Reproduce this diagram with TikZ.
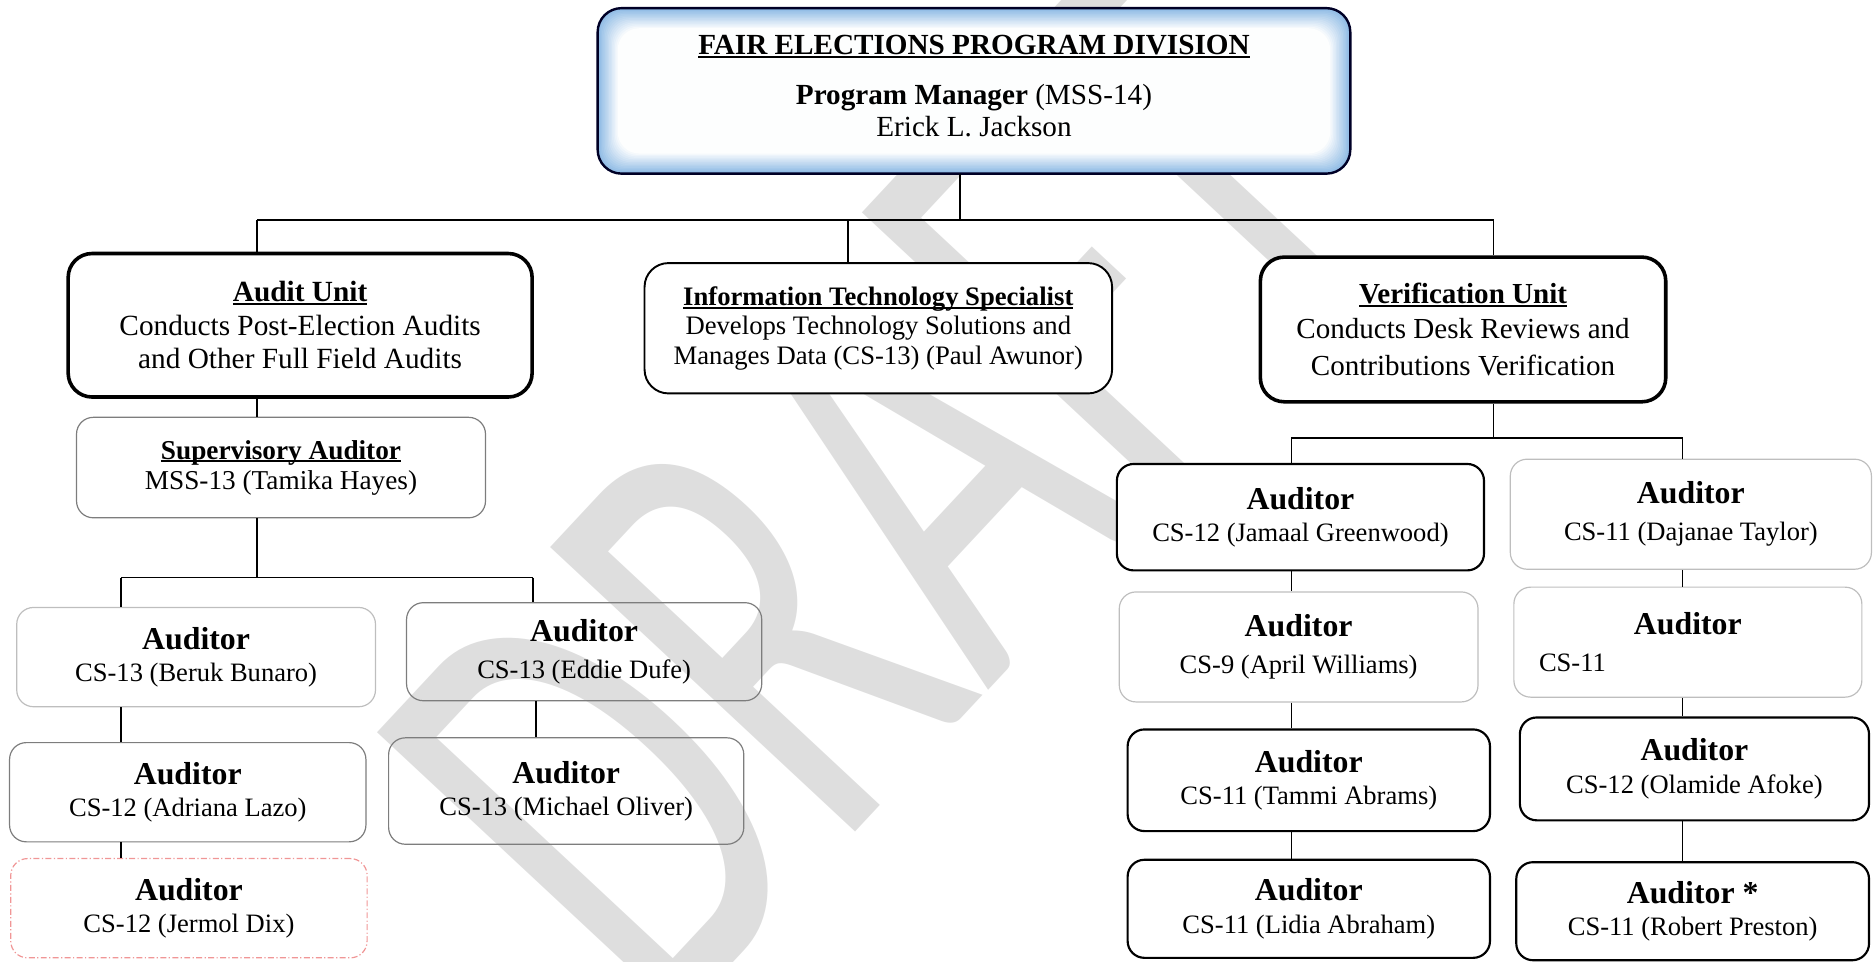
\documentclass[tikz,border=0pt]{standalone}
\usepackage{fontspec}
\setmainfont{Liberation Serif}
\newfontfamily\wmfont{Carlito}
\definecolor{wmgray}{RGB}{222,222,222}
\definecolor{glow}{RGB}{140,185,228}
\definecolor{edgegray}{RGB}{125,125,125}
\definecolor{lightedge}{RGB}{190,190,190}
\definecolor{pinkedge}{RGB}{240,150,150}
% underline at a fixed depth, drawn through descenders
\newcommand\uln[1]{\setbox0=\hbox{#1}\rlap{\rule[-0.12em]{\wd0}{0.07em}}\box0}
% bold role title in the auditor boxes
\newcommand\aud[1]{{\fontsize{26.6}{27}\selectfont\bfseries #1}}

\begin{document}
\begin{tikzpicture}[x=1pt,y=-1pt,
  basebox/.style={rectangle, inner sep=0pt, align=center, font=\fontsize{22.2}{27}\selectfont},
  thickbox/.style={basebox, draw=black, line width=3pt, rounded corners=20pt, fill=white},
  darkbox/.style={basebox, draw=black, line width=1.8pt, rounded corners=14pt, fill=white},
  graybox/.style={basebox, draw=edgegray, line width=1pt, rounded corners=14pt},
  lightbox/.style={basebox, draw=lightedge, line width=1pt, rounded corners=14pt},
  dashbox/.style={basebox, draw=pinkedge, line width=1pt, rounded corners=14pt,
    dash pattern=on 5pt off 2pt on 1pt off 2pt},
  sz/.style 2 args={minimum width=#1, minimum height=#2},
  link/.style={draw=black, line width=1.4pt}]
\useasboundingbox (0,0) rectangle (1568,804);

% watermark behind the chart
\node[anchor=base west, inner sep=0pt, rotate=47, xscale=0.63, text=wmgray,
  font=\wmfont\fontsize{543.6}{543.6}\selectfont] (wm) at (555,868) {DRAFT};

% ---------------- division head ----------------
\node[rectangle, inner sep=0pt, sz={629}{138}] (pm) at (814.5,76) {};
\foreach \i in {0,...,14} {
  \pgfmathtruncatemacro\pct{max(0,100-7*\i)}
  \fill[glow!\pct!white, rounded corners=18pt]
    ([shift={(\i*1.2,\i*1.2)}]pm.north west) rectangle ([shift={(-\i*1.2,-\i*1.2)}]pm.south east);
}
\draw[line width=2pt, black!85!blue, rounded corners=20pt] (pm.north west) rectangle (pm.south east);
\node[anchor=north, align=center, inner sep=0pt, font=\fontsize{24.4}{27}\selectfont] (pmtext) at (814.5,29)
  {\uln{\bfseries FAIR ELECTIONS PROGRAM DIVISION}\\[15pt]
   \textbf{Program Manager} (MSS-14)\\ Erick L. Jackson};

% ---------------- second level ----------------
\node[thickbox, sz={388}{120}, font=\fontsize{24.5}{28}\selectfont] (audit) at (251,272)
  {\uln{\textbf{Audit Unit}}\\ Conducts Post-Election Audits\\ and Other Full Field Audits};
\node[darkbox, line width=1.6pt, rounded corners=20pt, sz={391}{109}, font=\fontsize{22.3}{24.5}\selectfont] (it) at (734.5,274.5)
  {\uln{\textbf{Information Technology Specialist}}\\ Develops Technology Solutions and\\ Manages Data (CS-13) (Paul Awunor)};
\node[thickbox, sz={339}{121}, font=\fontsize{24.3}{29}\selectfont] (verif) at (1223.5,275.5)
  {\uln{\textbf{Verification Unit}}\\ Conducts Desk Reviews and\\[2pt] Contributions Verification};

% ---------------- audit unit ----------------
\node[graybox, sz={342}{84}, font=\fontsize{22.8}{25}\selectfont] (sup) at (235,391)
  {\uln{\textbf{Supervisory Auditor}}\\ MSS-13 (Tamika Hayes)};
\node[lightbox, sz={300}{83}] (beruk) at (164,549.5) {\aud{Auditor}\\ CS-13 (Beruk Bunaro)};
\node[graybox, sz={298}{83}] (adriana) at (157,662.5) {\aud{Auditor}\\ CS-12 (Adriana Lazo)};
\node[dashbox, sz={298}{83}] (jermol) at (158,759.5) {\aud{Auditor}\\ CS-12 (Jermol Dix)};
\node[graybox, sz={297}{82}] (eddie) at (488.5,545) {\aud{Auditor}\\[4pt] CS-13 (Eddie Dufe)};
\node[graybox, sz={297}{89}] (michael) at (473.5,661.5) {\aud{Auditor}\\ CS-13 (Michael Oliver)};

% ---------------- verification unit ----------------
\node[darkbox, sz={307}{89}] (jamaal) at (1087.5,432.5) {\aud{Auditor}\\ CS-12 (Jamaal Greenwood)};
\node[lightbox, sz={300}{92}] (april) at (1086,541) {\aud{Auditor}\\[4pt] CS-9 (April Williams)};
\node[darkbox, sz={303}{85}] (tammi) at (1094.5,652.5) {\aud{Auditor}\\ CS-11 (Tammi Abrams)};
\node[darkbox, sz={303}{82}] (lidia) at (1094.5,760) {\aud{Auditor}\\ CS-11 (Lidia Abraham)};
\node[lightbox, sz={302}{92}] (dajanae) at (1414,430) {\aud{Auditor}\\[4pt] CS-11 (Dajanae Taylor)};
\node[lightbox, sz={291}{92}] (cs11) at (1411.5,537) {\aud{Auditor}\\[4pt] \makebox[249pt][l]{CS-11}};
\node[darkbox, sz={292}{86}] (olamide) at (1417,643) {\aud{Auditor}\\ CS-12 (Olamide Afoke)};
\node[darkbox, sz={295}{82}] (robert) at (1415.5,762) {\aud{Auditor *}\\ CS-11 (Robert Preston)};

% ---------------- connectors ----------------
\coordinate (pmbus) at (803,184);
\coordinate (auditin) at (215,184);
\coordinate (itin) at (709,184);
\coordinate (verifin) at (1249,184);
\draw[link] (pm.south -| pmbus) -- (pmbus);
\draw[link] (auditin) -- (verifin);
\draw[link] (auditin) -- (auditin |- audit.north);
\draw[link] (itin) -- (itin |- it.north);
\draw[link] (verifin) -- (verifin |- verif.north);

\draw[link] (audit.south -| auditin) -- (sup.north -| auditin);
\coordinate (supbus) at (215,483);
\coordinate (berukin) at (101,483);
\coordinate (eddiein) at (446,483);
\draw[link] (sup.south -| supbus) -- (supbus);
\draw[link] (berukin) -- (eddiein);
\draw[link] (berukin) -- (berukin |- beruk.north);
\draw[link] (eddiein) -- (eddiein |- eddie.north);
\draw[link] (beruk.south -| berukin) -- (adriana.north -| berukin);
\draw[link] (adriana.south -| berukin) -- (jermol.north -| berukin);
\coordinate (colB) at (448,600);
\draw[link] (eddie.south -| colB) -- (michael.north -| colB);

\coordinate (verbus) at (1249,366);
\coordinate (jamin) at (1080,366);
\coordinate (dajin) at (1407,366);
\draw[link] (verif.south -| verbus) -- (verbus);
\draw[link] (jamin) -- (dajin);
\draw[link] (jamin) -- (jamin |- jamaal.north);
\draw[link] (dajin) -- (dajin |- dajanae.north);
\draw[link] (jamaal.south -| jamin) -- (april.north -| jamin);
\draw[link] (april.south -| jamin) -- (tammi.north -| jamin);
\draw[link] (tammi.south -| jamin) -- (lidia.north -| jamin);
\draw[link] (dajanae.south -| dajin) -- (cs11.north -| dajin);
\draw[link] (cs11.south -| dajin) -- (olamide.north -| dajin);
\draw[link] (olamide.south -| dajin) -- (robert.north -| dajin);
\end{tikzpicture}
\end{document}
